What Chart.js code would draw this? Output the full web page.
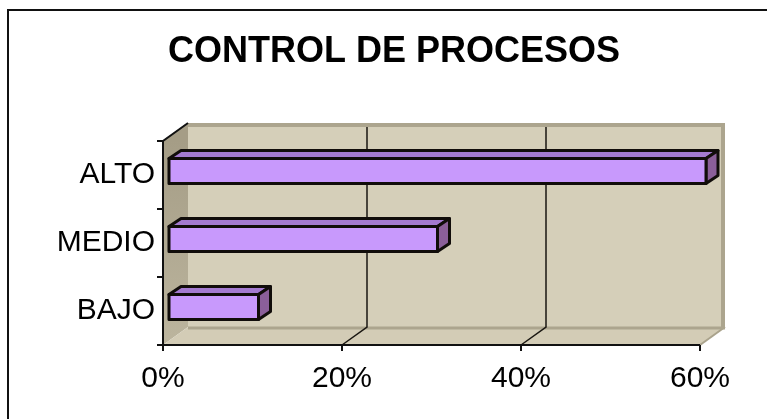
<!DOCTYPE html>
<html>
<head>
<meta charset="utf-8">
<title>Control de procesos</title>
<script src="https://cdn.jsdelivr.net/npm/chart.js@4"></script>
<style>
	body { margin: 0; background: #fff; overflow: hidden; }
	canvas { display: block; }
</style>
</head>
<body>
<canvas id="barChart" width="767" height="419"></canvas>
<script>
// datos del grafico
const categorias = ['ALTO', 'MEDIO', 'BAJO'];
const porcentajes = [60, 30, 10];
const ticksX = [0, 20, 40, 60];
const titulo = 'CONTROL DE PROCESOS';

const fuente = '"Liberation Sans", Arial, sans-serif';

// profundidad del efecto 3D
const prof = { dx: 25, dy: -18 };
const barra = { fx: 6, fy: -4, bx: 12, by: -8 };

function poligono(ctx, pts) {
	ctx.beginPath();
	ctx.moveTo(pts[0][0], pts[0][1]);
	for (let i = 1; i < pts.length; i++) ctx.lineTo(pts[i][0], pts[i][1]);
	ctx.closePath();
}

const fondo3d = {
	id: 'fondo3d',
	beforeDraw(chart) {
		const ctx = chart.ctx;
		ctx.save();
		ctx.fillStyle = '#fff';
		ctx.fillRect(0, 0, chart.width, chart.height);
		// marco
		ctx.strokeStyle = '#111';
		ctx.lineWidth = 2;
		ctx.strokeRect(8, 10, chart.width + 20, chart.height + 20);
		// titulo
		ctx.fillStyle = '#000';
		ctx.font = 'bold 36px ' + fuente;
		ctx.textAlign = 'center';
		ctx.textBaseline = 'alphabetic';
		ctx.fillText(titulo, 394, 62);
		ctx.restore();
	},
	beforeDatasetsDraw(chart) {
		const ctx = chart.ctx;
		const a = chart.chartArea;
		const x = chart.scales.x;
		const { dx, dy } = prof;
		ctx.save();

		// pared izquierda
		const g = ctx.createLinearGradient(0, a.top, 0, a.bottom);
		g.addColorStop(0, '#a59d86');
		g.addColorStop(1, '#bcb59e');
		ctx.fillStyle = g;
		poligono(ctx, [[a.left, a.top], [a.left + dx, a.top + dy], [a.left + dx, a.bottom + dy], [a.left, a.bottom]]);
		ctx.fill();

		// piso
		ctx.fillStyle = '#d3ccb6';
		poligono(ctx, [[a.left, a.bottom], [a.left + dx, a.bottom + dy], [a.right + dx, a.bottom + dy], [a.right, a.bottom]]);
		ctx.fill();
		ctx.strokeStyle = '#aaa38c';
		ctx.lineWidth = 2;
		ctx.beginPath();
		ctx.moveTo(a.right, a.bottom);
		ctx.lineTo(a.right + dx, a.bottom + dy);
		ctx.stroke();

		// pared del fondo
		ctx.fillStyle = '#d5cfb9';
		ctx.fillRect(a.left + dx, a.top + dy, a.right - a.left, a.bottom - a.top);
		ctx.strokeStyle = '#aca58e';
		ctx.lineWidth = 4;
		ctx.beginPath();
		ctx.moveTo(a.left + dx, a.top + dy + 2);
		ctx.lineTo(a.right + dx - 2, a.top + dy + 2);
		ctx.lineTo(a.right + dx - 2, a.bottom + dy);
		ctx.stroke();
		ctx.lineWidth = 3;
		ctx.beginPath();
		ctx.moveTo(a.left + dx, a.bottom + dy + 1);
		ctx.lineTo(a.right + dx, a.bottom + dy + 1);
		ctx.stroke();

		// lineas de division
		ctx.strokeStyle = '#1a1712';
		ctx.lineWidth = 1.5;
		ticksX.forEach(v => {
			if (v == ticksX[0] || v == ticksX[ticksX.length - 1]) return;
			const px = x.getPixelForValue(v);
			ctx.beginPath();
			ctx.moveTo(px + dx, a.top + dy + 4);
			ctx.lineTo(px + dx, a.bottom + dy);
			ctx.lineTo(px, a.bottom);
			ctx.stroke();
		});

		// ejes
		ctx.strokeStyle = '#111';
		ctx.lineWidth = 2;
		ctx.beginPath();
		ctx.moveTo(a.left + dx, a.top + dy);
		ctx.lineTo(a.left, a.top);
		ctx.lineTo(a.left, a.bottom);
		ctx.lineTo(a.right, a.bottom);
		ctx.stroke();

		// marcas
		const banda = (a.bottom - a.top) / categorias.length;
		ctx.beginPath();
		for (let i = 0; i <= categorias.length; i++) {
			ctx.moveTo(a.left - 6, a.top + i * banda);
			ctx.lineTo(a.left, a.top + i * banda);
		}
		ticksX.forEach(v => {
			const px = x.getPixelForValue(v);
			ctx.moveTo(px, a.bottom);
			ctx.lineTo(px, a.bottom + 6);
		});
		ctx.stroke();
		ctx.restore();
	},
	afterDatasetsDraw(chart) {
		const ctx = chart.ctx;
		const { fx, fy, bx, by } = barra;
		ctx.save();
		ctx.lineWidth = 3;
		ctx.lineJoin = 'round';
		ctx.strokeStyle = '#110d0a';
		chart.getDatasetMeta(0).data.forEach(el => {
			const p = el.getProps(['x', 'y', 'base', 'height'], true);
			const l = p.base + fx, r = p.x + fx;
			const t = p.y - p.height / 2 + fy, b = p.y + p.height / 2 + fy;
			// cara superior
			ctx.fillStyle = '#a47ad0';
			poligono(ctx, [[l, t], [l + bx, t + by], [r + bx, t + by], [r, t]]);
			ctx.fill(); ctx.stroke();
			// cara lateral
			ctx.fillStyle = '#8b5f99';
			poligono(ctx, [[r, t], [r + bx, t + by], [r + bx, b + by], [r, b]]);
			ctx.fill(); ctx.stroke();
			// frente
			ctx.fillStyle = '#c899fc';
			poligono(ctx, [[l, t], [r, t], [r, b], [l, b]]);
			ctx.fill(); ctx.stroke();
		});
		ctx.restore();
	}
};

window.onload = function(e) {
	var ctx = document.getElementById('barChart').getContext('2d');
	var barChart = new Chart(ctx, {
		type: 'bar',
		data: {
			labels: categorias,
			datasets: [{
				label: titulo,
				data: porcentajes,
				backgroundColor: 'rgba(0,0,0,0)',
				borderWidth: 0,
				barThickness: 25
			}]
		},
		options: {
			indexAxis: 'y',
			responsive: false,
			animation: false,
			layout: { padding: { left: 20, top: 141, right: 67, bottom: 0 } },
			plugins: {
				legend: { display: false },
				title: { display: false },
				tooltip: { enabled: false }
			},
			scales: {
				x: {
					min: 0,
					max: 60,
					grid: { display: false },
					border: { display: false },
					ticks: {
						color: '#000',
						font: { family: fuente, size: 30 },
						padding: 8,
						maxRotation: 0,
						callback: v => v + '%'
					},
					afterBuildTicks: s => { s.ticks = ticksX.map(v => ({ value: v })) },
					afterFit: s => { s.height = 74; s.paddingLeft = 0; s.paddingRight = 0 }
				},
				y: {
					grid: { display: false },
					border: { display: false },
					ticks: {
						color: '#000',
						font: { family: fuente, size: 30 },
						padding: 0
					},
					afterFit: s => { s.width = 143; s.paddingTop = 0; s.paddingBottom = 0 }
				}
			}
		},
		plugins: [fondo3d]
	});
}
</script>
</body>
</html>
